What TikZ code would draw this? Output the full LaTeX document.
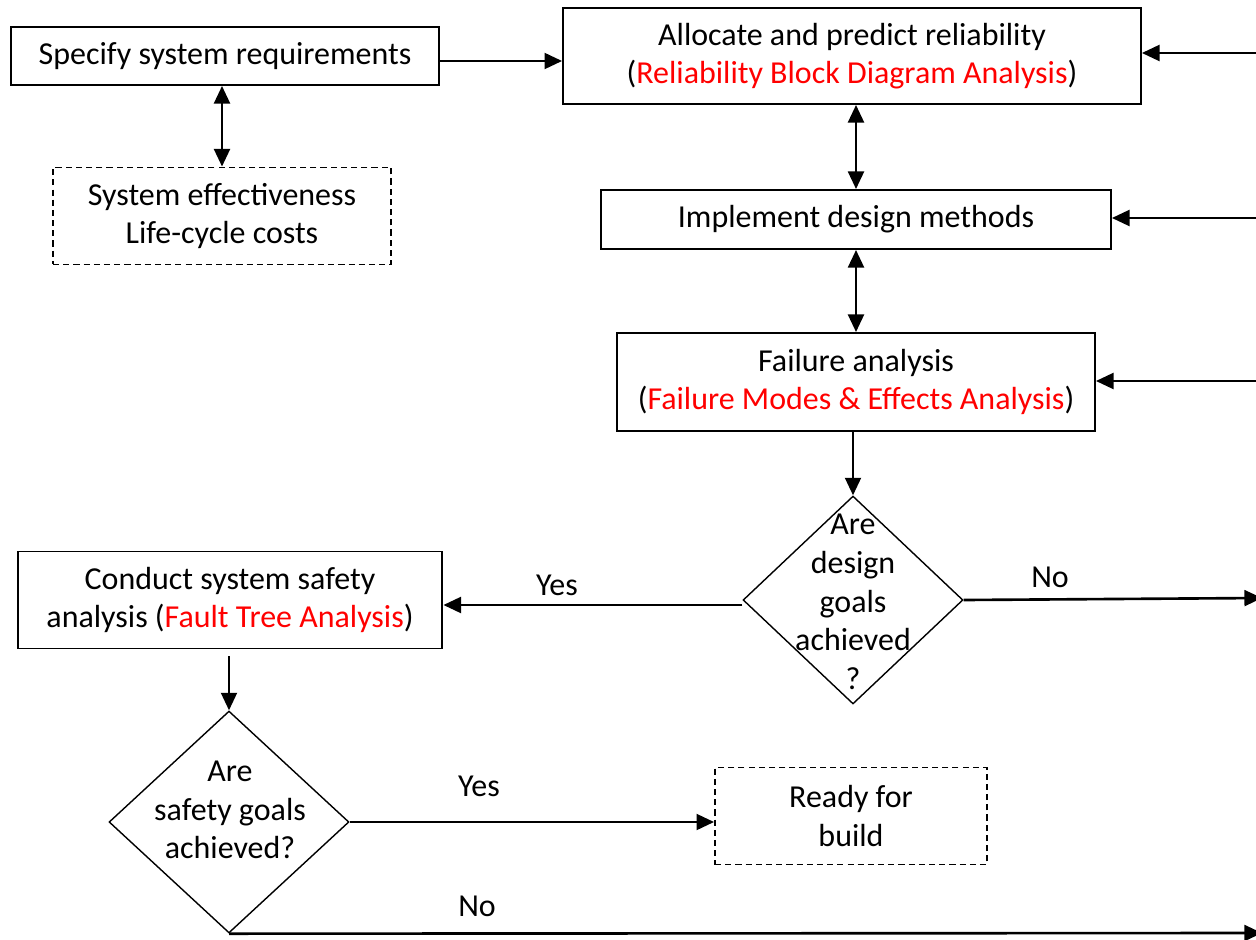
\documentclass[tikz,border=0pt]{standalone}
\usepackage{fontspec}
\setmainfont{Carlito}
\usetikzlibrary{arrows.meta,shapes.geometric}
\tikzset{
  box/.style={draw,line width=1.1pt,inner sep=0pt,align=center},
  dbox/.style={box,dash pattern=on 3.5pt off 2.3pt},
  decision/.style={draw,diamond,line width=0.8pt,inner sep=0pt},
  arr/.style={line width=1.5pt,-{Triangle[length=10pt,width=9pt]}},
  darr/.style={line width=1.5pt,{Triangle[length=10pt,width=9pt]}-{Triangle[length=10pt,width=9pt]}},
  every node/.style={font=\fontsize{18.2}{22}\selectfont}
}
\begin{document}
\begin{tikzpicture}[x=0.02cm,y=-0.02cm]
\useasboundingbox (0,0) rectangle (1256,939);

\node[box,minimum width=8.56cm,minimum height=1.16cm] (spec) at (225,56) {Specify system requirements};
\node[dbox,minimum width=6.76cm,minimum height=1.94cm] (eff) at (222,216) {System effectiveness\\Life-cycle costs};
\node[box,minimum width=11.56cm,minimum height=1.92cm] (alloc) at (852,56) {Allocate and predict reliability\\(\textcolor{red}{Reliability Block Diagram Analysis})};
\node[box,minimum width=10.2cm,minimum height=1.18cm] (impl) at (856,219.5) {Implement design methods};
\node[box,minimum width=9.56cm,minimum height=1.96cm] (fail) at (856,382) {Failure analysis\\(\textcolor{red}{Failure Modes \& Effects Analysis})};
\node[decision,minimum width=4.4cm,minimum height=4.16cm] (goals) at (853,600) {};
\node[align=center,inner sep=0pt] (goalstxt) at (853,602) {Are\\design\\goals\\achieved\\?};
\node[box,minimum width=8.5cm,minimum height=1.94cm] (safe) at (230,600) {Conduct system safety\\analysis (\textcolor{red}{Fault Tree Analysis})};
\node[decision,minimum width=4.8cm,minimum height=4.44cm] (sgoals) at (229,822) {};
\node[align=center,inner sep=0pt] (sgoalstxt) at (230,810) {Are\\safety goals\\achieved?};
\node[dbox,minimum width=5.44cm,minimum height=1.94cm] (ready) at (851,816) {Ready for\\build};

\coordinate (r1) at (1270,53);
\coordinate (r2) at (1270,218);
\coordinate (r3) at (1270,381);
\coordinate (r4) at (1262,598);
\coordinate (r5) at (1262,933);

\draw[arr]([yshift=-0.1cm]spec.east)--([yshift=-0.1cm]alloc.west);
\draw[darr](eff.north |- spec.south)--(eff.north);
\draw[darr](impl.north |- alloc.south)--(impl.north);
\draw[darr](impl.south)--(fail.north);
\draw[arr](goals.north |- fail.south)--(goals.north);
\draw[arr]([yshift=-0.1cm]goals.west)--([yshift=-0.1cm]goals.west -| safe.east);
\draw[arr](goals.east)--(r4);
\draw[arr,shorten <=0.14cm](sgoals.north |- safe.south)--(sgoals.north);
\draw[arr](sgoals.east)--(sgoals.east -| ready.west);
\draw[arr](sgoals.south)--(r5);
\draw[arr](r1)--(r1 -| alloc.east);
\draw[arr](r2)--(r2 -| impl.east);
\draw[arr](r3)--(r3 -| fail.east);

\node (yes1) at (557,585) {Yes};
\node (no1) at (1050,577) {No};
\node (yes2) at (479,786) {Yes};
\node (no2) at (477,906) {No};
\end{tikzpicture}
\end{document}
